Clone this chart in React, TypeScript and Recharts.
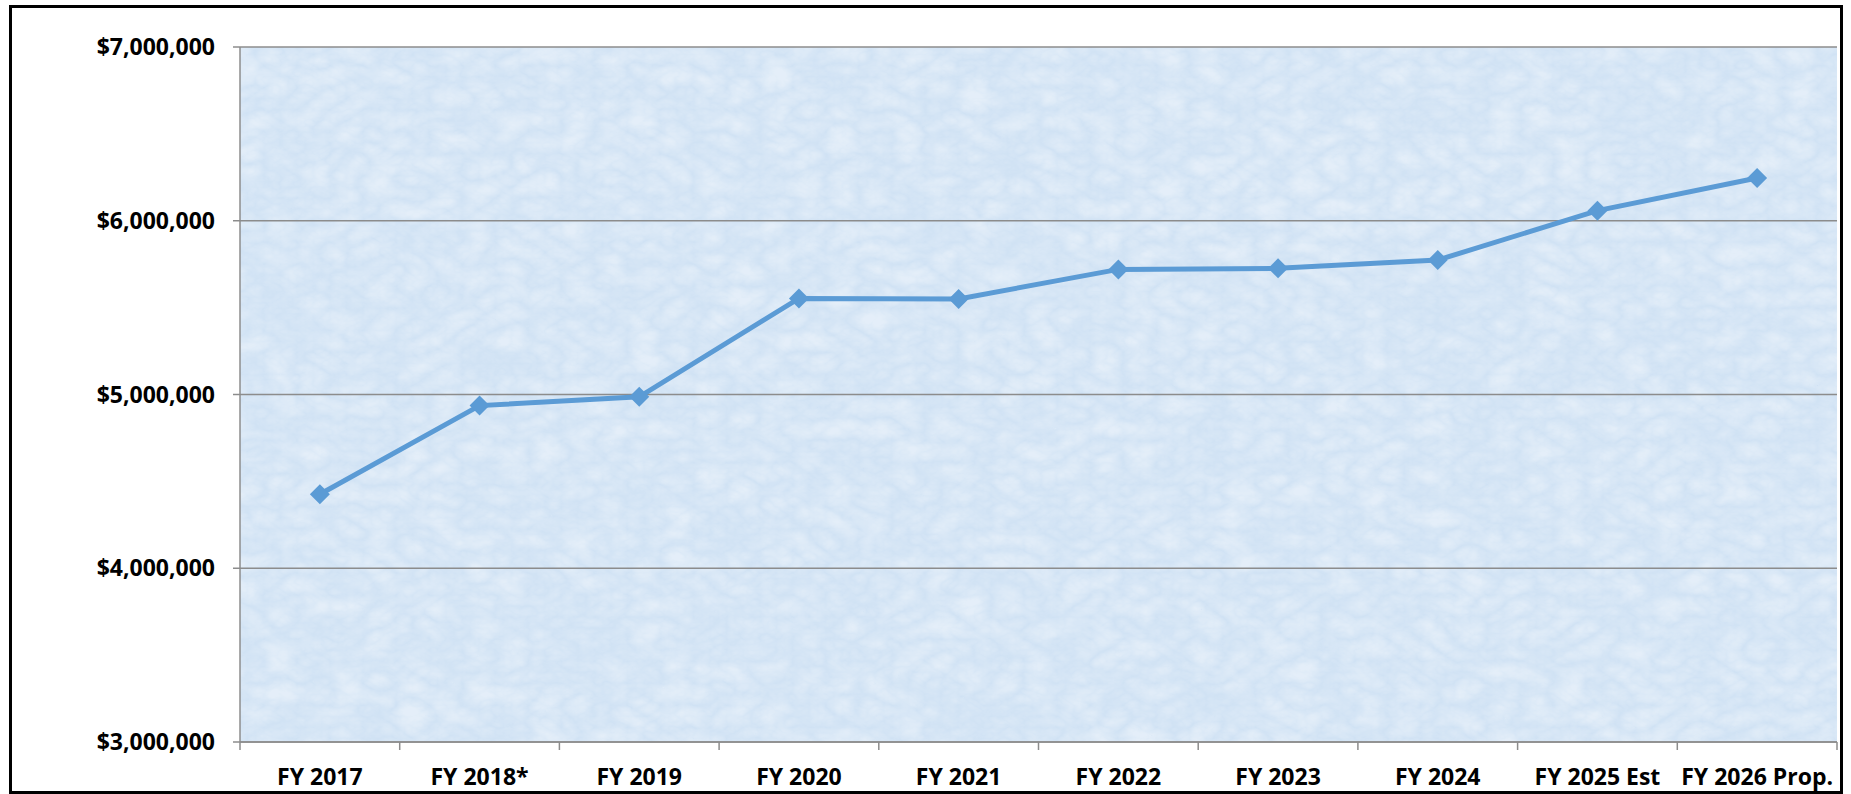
import React from 'react';
import { LineChart, Line, XAxis, YAxis, CartesianGrid } from 'recharts';

// values
const fiscalYears = [
  'FY 2017', 'FY 2018*', 'FY 2019', 'FY 2020', 'FY 2021',
  'FY 2022', 'FY 2023', 'FY 2024', 'FY 2025 Est', 'FY 2026 Prop.',
];
const budgetAmounts = [
  4426000, 4936000, 4987000, 5553000, 5550000,
  5720000, 5726000, 5774000, 6058000, 6246000,
];
const yTicks = [3000000, 4000000, 5000000, 6000000, 7000000];

const chartData = fiscalYears.map((year, i) => ({ year, amount: budgetAmounts[i] }));

const W = 1851;
const H = 794;
const Y_AXIS_W = 240;
const X_AXIS_H = 52;
const MARGIN = { top: 47, right: 14, bottom: 0, left: 0 };
const BAND = (W - Y_AXIS_W - MARGIN.right) / fiscalYears.length;

const LINE_COLOR = '#5b9bd5';
const AXIS_GRAY = '#8c8c8c';
const FONT = '"Open Sans", "DejaVu Sans", sans-serif';

const money = (v: number) => '$' + v.toLocaleString('en-US');

const XTick = (props: any) => {
  const { x, y, payload, index } = props;
  const half = BAND / 2;
  return (
    <g>
      <line x1={x - half} x2={x - half} y1={y} y2={y + 8} stroke={AXIS_GRAY} strokeWidth={1.5} />
      {index === fiscalYears.length - 1 && (
        <line x1={x + half} x2={x + half} y1={y} y2={y + 8} stroke={AXIS_GRAY} strokeWidth={1.5} />
      )}
      <text x={x} y={y + 43} textAnchor="middle" fill="#000" fontFamily={FONT} fontWeight={700} fontSize={23}>
        {payload.value}
      </text>
    </g>
  );
};

const Diamond = (props: any) => {
  const { cx, cy } = props;
  if (cx == null || cy == null) return null;
  const r = 10;
  return (
    <polygon
      points={`${cx},${cy - r} ${cx + r},${cy} ${cx},${cy + r} ${cx - r},${cy}`}
      fill={LINE_COLOR}
    />
  );
};

export default function App() {
  return (
    <div style={{ position: 'relative', width: W, height: H, background: '#fff', overflow: 'hidden' }}>
      <style>{`body { margin: 0; }`}</style>
      <svg width={0} height={0} style={{ position: 'absolute' }}>
        <defs>
          <filter id="marble" x="0" y="0" width="1" height="1">
            <feTurbulence type="turbulence" baseFrequency="0.03 0.045" numOctaves={4} seed={7} stitchTiles="stitch" result="noise" />
            <feColorMatrix
              in="noise"
              type="matrix"
              values="0 0 0 0 1  0 0 0 0 1  0 0 0 0 1  1.4 0 0 0 -0.05"
            />
          </filter>
          <pattern id="paper" patternUnits="userSpaceOnUse" width={1851} height={794}>
            <rect width={1851} height={794} fill="#d0e2f4" />
            <rect width={1851} height={794} filter="url(#marble)" opacity={0.42} />
          </pattern>
        </defs>
      </svg>

      <div style={{ position: 'absolute', left: 0, top: 0 }}>
        <LineChart width={W} height={H} data={chartData} margin={MARGIN}>
          <CartesianGrid vertical={false} stroke={AXIS_GRAY} strokeWidth={1.3} fill="url(#paper)" fillOpacity={1} />
          <XAxis
            dataKey="year"
            height={X_AXIS_H}
            padding={{ left: BAND / 2, right: BAND / 2 }}
            axisLine={{ stroke: AXIS_GRAY, strokeWidth: 1.5 }}
            tickLine={false}
            tickSize={0}
            tickMargin={0}
            interval={0}
            tick={<XTick />}
          />
          <YAxis
            width={Y_AXIS_W}
            domain={[3000000, 7000000]}
            ticks={yTicks}
            tickFormatter={money}
            axisLine={{ stroke: AXIS_GRAY, strokeWidth: 1.5 }}
            tickLine={{ stroke: AXIS_GRAY, strokeWidth: 1.5 }}
            tickSize={7}
            tickMargin={18}
            tick={{ fill: '#000', fontFamily: FONT, fontWeight: 700, fontSize: 23 }}
          />
          <Line
            type="linear"
            dataKey="amount"
            stroke={LINE_COLOR}
            strokeWidth={5}
            dot={<Diamond />}
            activeDot={false}
            isAnimationActive={false}
          />
        </LineChart>
      </div>

      <div
        style={{
          position: 'absolute',
          left: 9,
          top: 5,
          width: 1834,
          height: 789,
          border: '3px solid #000',
          boxSizing: 'border-box',
          pointerEvents: 'none',
        }}
      />
    </div>
  );
}
